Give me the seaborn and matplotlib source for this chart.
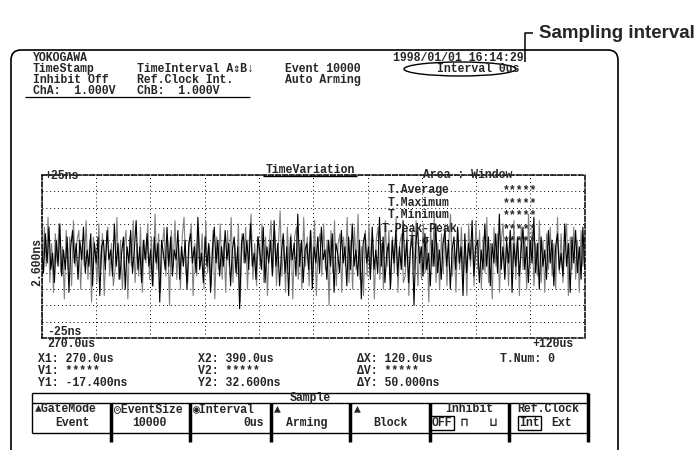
import matplotlib
matplotlib.use("Agg")
import matplotlib.pyplot as plt
from matplotlib.patches import FancyBboxPatch, Ellipse
import numpy as np
import pandas as pd
import seaborn as sns

# trace values (ns, offset from the 2.600ns centre)
black_ns = [
    3, -5, 7, -2, 9, -4, 1, -8, 5, -3, 10, -6, 2, -4, 6, -11, 3, 8, -2, 4,
    -7, 5, -1, 9, -5, 2, -3, 7, -9, 4, -2, 6, -12, 3, 5, -4, 8, -1, 2, -6,
    10, -3, 4, -7, 1, 6, -10, 3, -2, 8, -5, 2, 11, -4, 3, -8, 5, -1, 7, -3,
    2, -9, 6, -2, 4, -14, 5, 1, -4, 9, -3, 6, -6, 2, -1, 8, -7, 3, -3, 5,
    -10, 4, 7, -2, 3, -5, 12, -4, 1, -8, 6, -3, 4, -11, 2, 9, -2, 5, -6, 3,
    -3, 8, -1, 4, -9, 2, 6, -5, 3, -16, 4, 7, -2, 5, -4, 10, -3, 1, -7, 6,
    2, -4, 9, -8, 3, -2, 5, -6, 11, -3, 4, -9, 1, 7, -5, 3, -12, 6, -1, 4,
    -6, 13, -3, 5, -8, 2, 4, -4, 8, -10, 3, -2, 6, -5, 9, -1, 2, -7, 5, -3,
    7, -11, 4, 1, -5, 8, -2, 3, -9, 6, -4, 10, -3, 2, -6, 5, -13, 4, 7, -2,
    3, -7, 9, -4, 2, -5, 12, -3, 6, -8, 1, 4, -10, 5, -2, 8, -6, 3, -4, 11,
    -3, 5, -8, 2, 6, -15, 4, 9, -2, 3, -6, 7, -4, 1, -9, 5, -3, 10, -5, 2,
    -7, 4, 8, -3, 5, -10, 2, 6, -4, 9, -2, 3, -12, 7, -5, 4, -1, 11, -6, 3,
    5, -8, 2, -4, 10, -3, 6, -9, 4, -2, 7, -5, 13, -4, 3, -7, 5, -2, 8, -11,
    4, -3, 6, -6, 2, 9, -4, 3, -8, 5, -2, 12, -5, 4, -10, 6, -3, 2, -7, 8,
    -2, 5, -9, 3, 7, -4, 1, -6, 10, -3, 4, -11, 6, -2, 8, -5, 3, -7, 9, -4,
]
gray_ns = [
    -6, 9, -3, 12, -8, 4, -11, 7, -2, 10, -5, 3, -13, 8, -4, 6, -9, 11, -3, 5,
    8, -10, 4, -3, 11, -7, 5, -14, 6, 2, -8, 10, -4, 7, -12, 3, 9, -6, 4, -9,
    -4, 12, -7, 5, -10, 3, 8, -13, 6, -3, 11, -8, 4, -6, 9, -11, 5, -2, 10, -7,
    6, -9, 13, -4, 7, -11, 3, 9, -6, 5, -15, 8, -3, 11, -7, 4, -10, 6, 12, -5,
    -8, 5, 10, -12, 4, -6, 9, -3, 7, -10, 11, -5, 3, -9, 8, -13, 6, -4, 10, -7,
    5, -11, 8, -3, 12, -8, 4, -6, 10, -14, 7, -2, 9, -10, 5, 13, -7, 4, -9, 6,
    -3, 10, -8, 6, -12, 4, 11, -5, 8, -9, 3, 14, -6, 5, -11, 9, -4, 7, -13, 6,
    9, -7, 4, -10, 12, -3, 6, -9, 8, -5, 11, -12, 4, 7, -6, 10, -4, 5, -15, 8,
    -5, 11, -9, 4, 7, -11, 6, -3, 12, -8, 5, -10, 9, -4, 13, -7, 3, -12, 8, -6,
    10, -4, 6, -13, 5, 9, -7, 4, -10, 11, -3, 8, -9, 6, -5, 12, -11, 4, 7, -8,
    -6, 9, -12, 5, 8, -4, 11, -9, 3, -7, 10, -5, 6, -14, 9, -3, 12, -8, 4, -10,
    7, -5, 10, -9, 4, 13, -6, 3, -11, 8, -4, 9, -7, 5, -12, 10, -3, 6, -9, 11,
    -4, 8, -10, 6, -5, 12, -8, 4, -13, 9, -3, 7, -11, 5, 10, -6, 4, -9, 8, -5,
    11, -7, 5, -12, 9, -4, 6, -10, 13, -3, 8, -9, 4, -6, 11, -8, 5, -11, 7, -4,
    9, -6, 4, -10, 12, -5, 7, -8, 3, 10, -12, 6, -4, 9, -7, 5, -11, 8, -3, 6,
]
t_start_us = 270.0
t_span_us = 120.0

header_rows = [
    ["YOKOGAWA", "", ""],
    ["TimeStamp", "TimeInterval A⇕B↓", "Event 10000"],
    ["Inhibit Off", "Ref.Clock Int.", "Auto Arming"],
    ["ChA:  1.000V", "ChB:  1.000V", ""],
]
stat_names = ["T.Average", "T.Maximum", "T.Minimum", "T.Peak-Peak", "T.σ"]
cursor_rows = [
    ["X1: 270.0us", "X2: 390.0us", "ΔX: 120.0us", "T.Num: 0"],
    ["V1: *****", "V2: *****", "ΔV: *****", ""],
    ["Y1: -17.400ns", "Y2: 32.600ns", "ΔY: 50.000ns", ""],
]

sns.set_style("white")
plt.rcParams["font.family"] = ["Liberation Mono", "DejaVu Sans Mono", "DejaVu Sans"]
plt.rcParams["font.weight"] = "bold"
FS = 8.3

W, H = 699, 450
fig = plt.figure(figsize=(W / 100, H / 100), dpi=100)

# trace area (pixel box 41.7..584.7 x 175..338)
px0, px1, py0, py1 = 41.7, 584.7, 175, 338
ax = fig.add_axes([px0 / W, 1 - py1 / H, (px1 - px0) / W, (py1 - py0) / H])
ax.patch.set_alpha(0)

tb = np.linspace(t_start_us, t_start_us + t_span_us, len(black_ns))
tg = np.linspace(t_start_us + 0.2, t_start_us + t_span_us, len(gray_ns))
df_g = pd.DataFrame({"t": tg, "v": gray_ns})
df_b = pd.DataFrame({"t": tb, "v": black_ns})
sns.lineplot(data=df_g, x="t", y="v", ax=ax, color="#808080", lw=0.8,
             estimator=None, sort=False)
sns.lineplot(data=df_b, x="t", y="v", ax=ax, color="black", lw=0.8,
             estimator=None, sort=False)

ax.set_xlim(t_start_us, t_start_us + t_span_us)
ax.set_ylim(-25, 25)
ax.set_xticks(np.linspace(t_start_us, t_start_us + t_span_us, 11))
ax.set_yticks(np.linspace(-25, 25, 11))
ax.tick_params(length=0, labelbottom=False, labelleft=False)
ax.set_xlabel("")
ax.set_ylabel("")
ax.grid(True, color="black", lw=0.7, linestyle=(0, (1, 3)))
for s in ax.spines.values():
    s.set_visible(True)
    s.set_color("black")
    s.set_linewidth(1.1)
    s.set_linestyle((0, (3, 1.5)))

# overlay in pixel coordinates for the screen furniture
ov = fig.add_axes([0, 0, 1, 1])
ov.set_xlim(0, W)
ov.set_ylim(H, 0)
ov.axis("off")
ov.patch.set_alpha(0)


def txt(x, y, s, **kw):
    kw.setdefault("fontsize", FS)
    kw.setdefault("va", "center")
    ov.text(x, y, s, **kw)


def line(xs, ys, lw=1.0, **kw):
    ov.plot(xs, ys, color="black", lw=lw, solid_capstyle="butt", **kw)


# screen frame
ov.add_patch(FancyBboxPatch((11, 50), 607, 460,
                            boxstyle="round,pad=0,rounding_size=10",
                            fill=False, ec="black", lw=1.2))

# callout
txt(695, 33, "Sampling interval", ha="right", fontsize=13.5,
    fontweight="bold", family="Liberation Sans")
line([533, 525, 525], [33, 33, 62], lw=1.1)
ov.add_patch(Ellipse((460, 69), 112, 14, fill=False, ec="black", lw=1.0))

# header block
col_x = [33, 137, 285]
row_y = [58, 69, 80, 91]
for r, y in zip(header_rows, row_y):
    for s, x in zip(r, col_x):
        if s:
            txt(x, y, s)
txt(393, 58, "1998/01/01 16:14:29")
txt(437, 69, "Interval 0us")
line([25, 250], [97, 97], lw=0.9)

# trace labels
txt(310, 170, "TimeVariation", ha="center")
line([263, 357], [175.5, 175.5], lw=1.0)
txt(468, 175, "Area : Window", ha="center")
txt(44, 176, "+25ns")
txt(47, 332, "-25ns")
txt(37, 262, "2.600ns", rotation=90, ha="center")
txt(47, 344, "270.0us")
txt(574, 344, "+120us", ha="right")
for s, y in zip(stat_names, [190, 203, 215, 229, 241]):
    txt(419, y, s, ha="center")
    txt(520, y, "*****", ha="center")

# cursor readouts
for r, y in zip(cursor_rows, [359, 371, 383]):
    for s, x in zip(r, [38, 198, 357, 500]):
        if s:
            txt(x, y, s)

# soft-key menu
line([32, 588], [393, 393], lw=1.0)
line([32, 588], [403, 403], lw=1.0)
line([32, 588], [433, 433], lw=1.0)
line([32, 32], [393, 433], lw=1.0)
line([588, 588], [393, 442], lw=2.5)
for x in [111, 190, 271, 350, 430, 509]:
    line([x, x], [403, 442], lw=2.5)
txt(310, 398, "Sample", ha="center")

y1, y2 = 409, 423
txt(35, y1, "▲GateMode")
txt(72, y2, "Event", ha="center")
txt(114, y1, "◎EventSize")
txt(149, y2, "10000", ha="center")
txt(193, y1, "◉Interval")
txt(264, y2, "0us", ha="right")
txt(274, y1, "▲")
txt(307, y2, "Arming", ha="center")
txt(354, y1, "▲")
txt(390, y2, "Block", ha="center")
txt(469, y1, "Inhibit", ha="center")
box = dict(boxstyle="square,pad=0.12", fc="white", ec="black", lw=1.0)
txt(432, y2, "OFF", bbox=box)
txt(464, y2, "⊓", ha="center")
txt(493, y2, "⊔", ha="center")
txt(548, y1, "Ref.Clock", ha="center")
txt(519, y2, "Int", bbox=box)
txt(562, y2, "Ext", ha="center")

fig.savefig("out.png", dpi=100, facecolor="white")
